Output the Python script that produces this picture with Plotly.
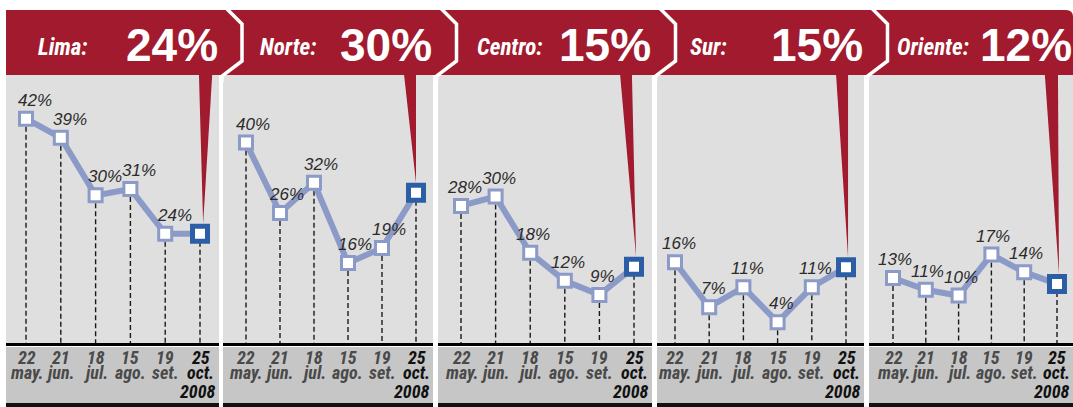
import plotly.graph_objects as go

# ---------------- data ----------------
regions = ["Lima:", "Norte:", "Centro:", "Sur:", "Oriente:"]
header_values = ["24%", "30%", "15%", "15%", "12%"]
days = ["22", "21", "18", "15", "19", "25"]
months = ["may.", "jun.", "jul.", "ago.", "set.", "oct."]
year_label = "2008"
lima = [42, 39, 30, 31, 24, 24]
norte = [40, 26, 32, 16, 19, 30]
centro = [28, 30, 18, 12, 9, 15]
sur = [16, 7, 11, 4, 11, 15]
oriente = [13, 11, 10, 17, 14, 12]
series = [lima, norte, centro, sur, oriente]

# ---------------- layout constants (pixels) ----------------
W, H = 1073, 407
panels_px = [(6, 219), (223, 433), (438, 652), (657, 864), (869, 1073)]
x_ranges = [(-0.575, 5.546), (-0.676, 5.5), (-0.665, 5.52), (-0.526, 5.526), (-0.732, 5.488)]
y_ranges = [(6.89, 48.83), (0.08, 53.47), (-1.28, 55.98), (-0.18, 53.53), (1.93, 47.58)]
label_xshift = [9, 7, 3, 4, 2]
name_left_px = [36, 258, 475, 688, 895]
# pointer wedge geometry (offsets in category units from the last point)
wedge_left = [-0.03, -0.35, -0.40, -0.29, -0.37]
wedge_right = [0.35, 0.0, -0.06, 0.06, 0.03]
wedge_tip = [0.09, 0.0, 0.06, 0.06, 0.06]
plot_top, plot_bot = 75, 343
head_top = 10

RED = "#a11a2d"
LINE = "#8b9ac6"
BLUE = "#2c5ea6"
FONT = "Liberation Sans, Arial, sans-serif"
NARROW = "Liberation Sans Narrow, Roboto Condensed, Liberation Sans, Arial, sans-serif"


def px(xp):
    return xp / W


def py(yp):
    return 1 - yp / H


fig = go.Figure()
shapes = []
annotations = []

# header band (rounded top-right corner)
shapes.append(dict(
    type="path", xref="paper", yref="paper", layer="below",
    path=(f"M {px(6)},{py(head_top)} L {px(1066)},{py(head_top)} "
          f"Q {px(1073)},{py(head_top)} {px(1073)},{py(head_top + 7)} "
          f"L {px(1073)},{py(plot_top)} L {px(6)},{py(plot_top)} Z"),
    fillcolor=RED, line=dict(width=0)))

# chevrons between headers
for k in range(4):
    g = (panels_px[k][1] + panels_px[k + 1][0]) / 2
    shapes.append(dict(
        type="path", xref="paper", yref="paper", layer="above",
        path=(f"M {px(g + 2)},{py(5)} L {px(g + 21)},{py(24)} L {px(g + 21)},{py(61)} "
              f"L {px(g + 1)},{py(76)} L {px(g + 1)},{py(82)}"),
        line=dict(color="white", width=3.5)))

for k, vals in enumerate(series):
    n = k + 1
    xa = f"x{n}" if n > 1 else "x"
    ya = f"y{n}" if n > 1 else "y"
    xkey = f"xaxis{n}" if n > 1 else "xaxis"
    ykey = f"yaxis{n}" if n > 1 else "yaxis"
    x0p, x1p = panels_px[k]
    ymin, ymax = y_ranges[k]
    xs = list(range(len(vals)))

    fig.update_layout(**{
        xkey: dict(domain=[px(x0p), px(x1p)], range=list(x_ranges[k]), anchor=ya,
                   showgrid=False, zeroline=False, showticklabels=False, ticks="",
                   showline=True, linecolor="black", linewidth=3, fixedrange=True),
        ykey: dict(domain=[py(plot_bot), py(plot_top)], range=[ymin, ymax], anchor=xa,
                   showgrid=False, zeroline=False, showticklabels=False, ticks="",
                   showline=False, fixedrange=True),
    })

    # dashed drop lines
    dx, dy = [], []
    for i, v in zip(xs, vals):
        dx += [i, i, None]
        dy += [v, ymin, None]
    fig.add_trace(go.Scatter(x=dx, y=dy, mode="lines", xaxis=xa, yaxis=ya,
                             line=dict(color="#1a1a1a", width=1.4, dash="5px,3px"),
                             hoverinfo="skip", showlegend=False))

    # red pointer wedge
    ppu = (plot_bot - plot_top) / (ymax - ymin)
    last = len(vals) - 1
    tip_y = vals[-1] + 10 / ppu
    shapes.append(dict(
        type="path", xref=xa, yref=ya, layer="below",
        path=(f"M {last + wedge_left[k]},{ymax} L {last + wedge_right[k]},{ymax} "
              f"L {last + wedge_tip[k]},{tip_y} Z"),
        fillcolor=RED, line=dict(width=0)))

    # main line + markers
    fig.add_trace(go.Scatter(x=xs, y=vals, mode="lines+markers", xaxis=xa, yaxis=ya,
                             line=dict(color=LINE, width=6),
                             marker=dict(symbol="square", size=13, color="white",
                                         line=dict(color=LINE, width=3)),
                             hoverinfo="skip", showlegend=False))
    # last (current) marker
    fig.add_trace(go.Scatter(x=[xs[-1]], y=[vals[-1]], mode="markers", xaxis=xa, yaxis=ya,
                             marker=dict(symbol="square", size=15, color="white",
                                         line=dict(color=BLUE, width=5)),
                             hoverinfo="skip", showlegend=False))

    # value labels (all but the current one)
    for i, v in zip(xs[:-1], vals[:-1]):
        annotations.append(dict(
            x=i, y=v, xref=xa, yref=ya, text=f"{v}%", showarrow=False,
            xanchor="center", yanchor="bottom", yshift=7, xshift=label_xshift[k],
            font=dict(family=FONT, size=17, color="#2b2b2b", style="italic")))

    # header texts
    annotations.append(dict(
        x=px(name_left_px[k]), y=py(47), xref="paper", yref="paper", text=regions[k],
        showarrow=False, xanchor="left", yanchor="middle",
        font=dict(family=NARROW, size=23, color="white", weight="bold", style="italic")))
    annotations.append(dict(
        x=px(x1p + 1), y=py(45), xref="paper", yref="paper", text=header_values[k],
        showarrow=False, xanchor="right", yanchor="middle",
        font=dict(family=FONT, size=46, color="white", weight="bold")))

    # label band
    shapes.append(dict(type="rect", xref="paper", yref="paper", layer="below",
                       x0=px(x0p), x1=px(x1p), y0=py(403), y1=py(347),
                       fillcolor="#c6c6c6", line=dict(width=0)))
    shapes.append(dict(type="rect", xref="paper", yref="paper", layer="below",
                       x0=px(x0p), x1=px(x1p), y0=py(407), y1=py(403),
                       fillcolor="#111111", line=dict(width=0)))

    for i in xs:
        col = "#111111" if i == last else "#4a4a4a"
        annotations.append(dict(
            x=i, y=py(357), xref=xa, yref="paper", text=days[i], showarrow=False,
            xanchor="center", yanchor="middle", borderpad=0,
            font=dict(family=NARROW, size=18, color=col, weight="bold", style="italic")))
        annotations.append(dict(
            x=i, y=py(372), xref=xa, yref="paper", text=months[i], showarrow=False,
            xanchor="center", yanchor="middle", borderpad=0,
            font=dict(family=NARROW, size=18, color=col, weight="bold", style="italic")))
    annotations.append(dict(
        x=px(x1p - 3), y=py(391), xref="paper", yref="paper", text=year_label,
        showarrow=False, xanchor="right", yanchor="middle", borderpad=0,
        font=dict(family=NARROW, size=18, color="#111111", weight="bold", style="italic")))

fig.update_layout(
    width=W, height=H,
    margin=dict(l=0, r=0, t=0, b=0, pad=0, autoexpand=False),
    paper_bgcolor="white", plot_bgcolor="#dfdfdf",
    shapes=shapes, annotations=annotations, showlegend=False,
)

fig.write_html("out.html", config={"displayModeBar": False},
               post_script="document.body.style.margin='0';document.body.style.overflow='hidden';")
